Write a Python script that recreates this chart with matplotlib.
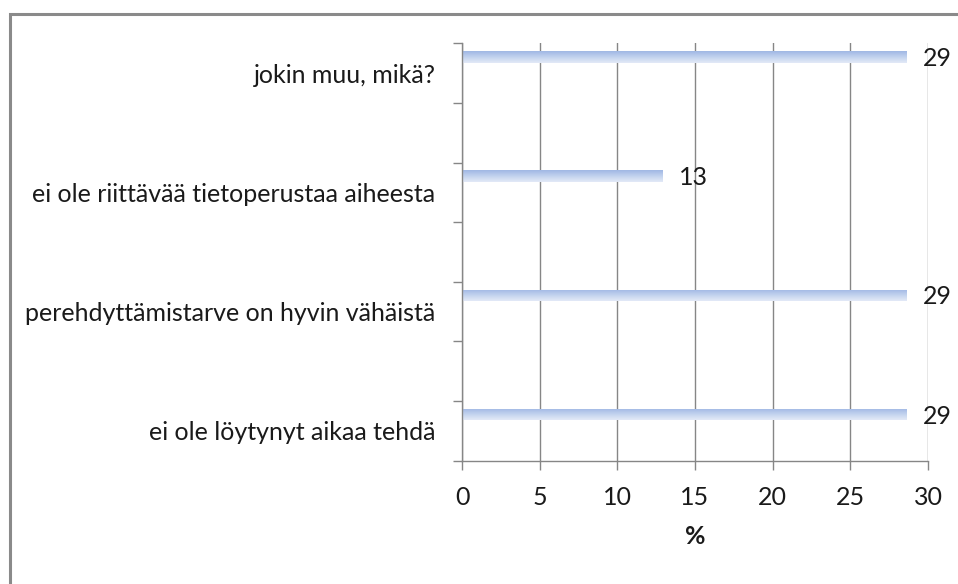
import numpy as np
import matplotlib
matplotlib.use("Agg")
import matplotlib.pyplot as plt
from matplotlib.colors import LinearSegmentedColormap
from matplotlib.patches import Rectangle

# Survey reasons (top to bottom) and their shares in percent
categories = [
    "jokin muu, mikä?",
    "ei ole riittävää tietoperustaa aiheesta",
    "perehdyttämistarve on hyvin vähäistä",
    "ei ole löytynyt aikaa tehdä",
]
values = [28.6, 12.9, 28.6, 28.6]
x_ticks = [0, 5, 10, 15, 20, 25, 30]
x_label = "%"

FONT = "Lato"
FS = 18
GRAY = "#868686"
TEXT = "#1a1a1a"

fig = plt.figure(figsize=(9.58, 5.84), dpi=100)
fig.patch.set_facecolor("white")

# outer chart frame (only top and left edges fall inside the canvas)
fig.add_artist(Rectangle((10 / 958, -0.05), 1.2, (584 - 14) / 584 + 0.05,
                         transform=fig.transFigure, fill=False,
                         edgecolor="#8a8a8a", linewidth=2.2))

ax = fig.add_axes([462 / 958, 123.3 / 584, 466 / 958, 417.4 / 584])

# each category occupies two slots: one with the bar, one empty spacer
n_slots = 2 * len(categories) - 1

grad_cmap = LinearSegmentedColormap.from_list("barfill", ["#9fb7e4", "#c2d2ee", "#e3eaf7"])
gradient = np.linspace(0, 1, 64).reshape(-1, 1)

bar_h = 0.195
bar_off = 0.2275
for i, (cat, val) in enumerate(zip(categories, values)):
    slot = 2 * i
    yc = slot + bar_off
    bars = ax.barh([yc], [val], height=bar_h, color="none", edgecolor="none")
    rect = bars.patches[0]
    im = ax.imshow(gradient, cmap=grad_cmap, aspect="auto",
                   extent=[0, val, yc + bar_h / 2, yc - bar_h / 2],
                   interpolation="bicubic", zorder=2)
    im.set_clip_path(rect)
    ax.annotate(f"{val:.0f}", xy=(val, yc), xytext=(12, -1),
                textcoords="offset points", va="center", ha="left",
                fontsize=FS, family=FONT, color=TEXT, zorder=4)

ax.set_ylim(n_slots, 0)
ax.set_xlim(x_ticks[0], x_ticks[-1])

# slot boundaries carry the tick marks, category names sit at slot centres
ax.set_yticks(np.arange(0, n_slots + 1))
ax.set_yticklabels([])
ax.set_yticks([2 * i + 0.5 for i in range(len(categories))], minor=True)
ax.set_yticklabels(categories, minor=True, fontsize=FS, family=FONT, color=TEXT)
ax.tick_params(axis="y", which="major", length=6.5, color=GRAY, width=1)
ax.tick_params(axis="y", which="minor", length=0, pad=19)

ax.set_xticks(x_ticks)
ax.set_xticklabels([str(t) for t in x_ticks], fontsize=FS, family=FONT, color=TEXT)
ax.tick_params(axis="x", length=6.5, color=GRAY, width=1, pad=12)
ax.set_xlabel(x_label, fontsize=FS, family=FONT, fontweight="bold", color=TEXT, labelpad=11)

ax.grid(axis="x", color=GRAY, linewidth=1)
ax.set_axisbelow(True)
for side in ("top", "right"):
    ax.spines[side].set_visible(False)
for side in ("left", "bottom"):
    ax.spines[side].set_color(GRAY)
    ax.spines[side].set_linewidth(1)
    ax.spines[side].set_zorder(3)

fig.savefig("out.png", dpi=100, facecolor="white")
